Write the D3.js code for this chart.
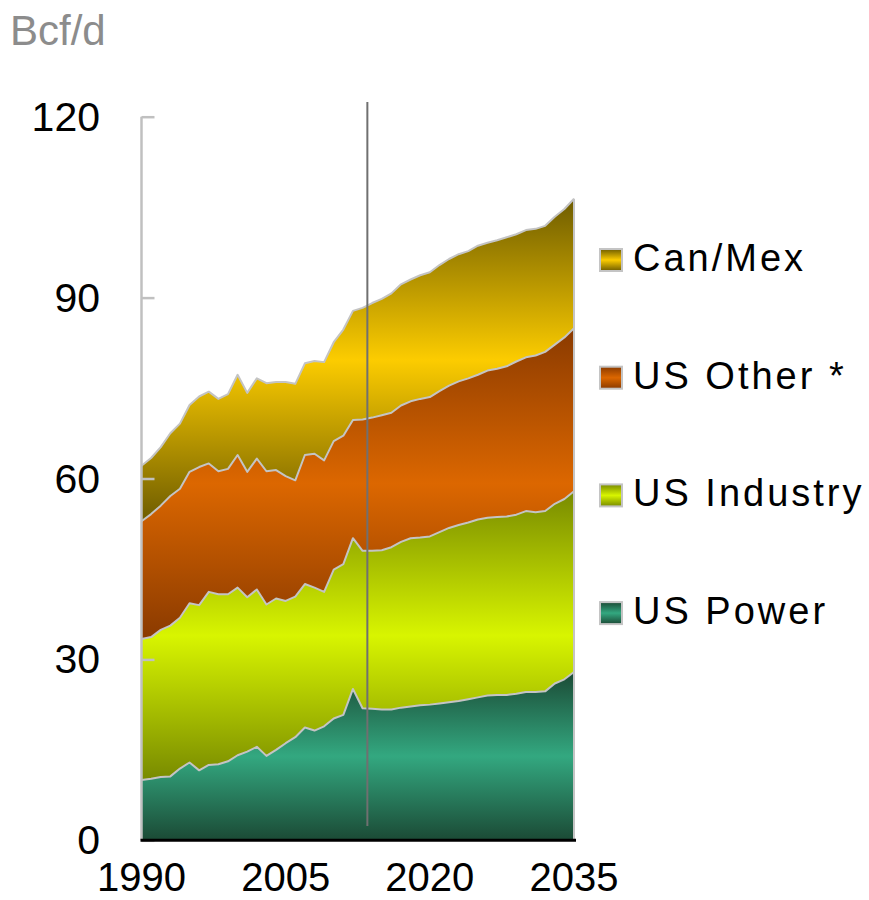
<!DOCTYPE html>
<html><head><meta charset="utf-8">
<script src="https://cdn.jsdelivr.net/npm/d3@7/dist/d3.min.js"></script>
<style>body{margin:0;background:#fff}svg{display:block}</style>
</head><body><svg id="c" width="869" height="900"></svg>
<script>
const years = [1990,1991,1992,1993,1994,1995,1996,1997,1998,1999,
  2000,2001,2002,2003,2004,2005,2006,2007,2008,2009,
  2010,2011,2012,2013,2014,2015,2016,2017,2018,2019,
  2020,2021,2022,2023,2024,2025,2026,2027,2028,2029,
  2030,2031,2032,2033,2034,2035];
const usPower = [10.0,10.2,10.5,10.6,11.9,12.9,11.6,12.5,12.6,13.1,
  14.1,14.7,15.5,14.0,15.0,16.1,17.1,18.7,18.2,18.9,
  20.2,20.8,25.1,21.9,21.8,21.7,21.7,22.0,22.2,22.4,
  22.5,22.7,22.9,23.1,23.4,23.7,24.0,24.1,24.1,24.3,
  24.6,24.6,24.7,26.0,26.7,27.9];
const usIndustry = [23.4,23.5,24.4,25.0,25.0,26.4,27.4,28.7,28.2,27.7,
  27.8,25.6,26.1,25.1,25.1,23.6,23.3,23.8,23.7,22.3,
  24.7,25.0,25.0,26.1,26.2,26.4,26.9,27.5,27.9,27.8,
  27.9,28.4,28.9,29.2,29.3,29.5,29.5,29.5,29.6,29.7,
  30.0,29.8,29.9,29.8,29.9,30.0];
const usOther = [19.5,20.4,20.6,21.5,21.4,21.8,22.9,21.3,20.4,20.8,
  22.0,20.8,21.7,22.1,21.3,20.7,19.3,21.4,22.2,21.8,
  21.3,21.3,19.6,21.8,22.1,22.4,22.3,22.6,22.7,23.0,
  23.1,23.4,23.6,23.8,23.9,24.0,24.4,24.6,24.9,25.4,
  25.5,26.0,26.4,26.4,26.8,27.0];
const canMex = [9.2,9.3,9.7,10.4,10.8,11.1,11.7,11.9,12.0,12.4,
  13.3,13.1,13.3,14.6,14.6,15.6,16.0,15.2,15.4,16.3,
  16.4,17.6,18.1,18.5,19.0,19.3,19.8,20.1,20.2,20.5,
  20.7,20.9,21.0,21.1,21.1,21.4,21.2,21.3,21.4,21.1,
  21.1,21.0,20.9,21.2,21.3,21.5];
const seriesKeys = ["power","industry","other","canmex"];
const seriesNames = {power:"US Power", industry:"US Industry", other:"US Other *", canmex:"Can/Mex"};
const legendOrder = ["canmex","other","industry","power"];
const yTicks = [0,30,60,90,120];
const xTicks = [1990,2005,2020,2035];
const historyEnd = 2013.5;
const unitLabel = "Bcf/d";

const colors = {
  power:   {edge:"#1b4a35", mid:"#33a880"},
  industry:{edge:"#788a00", mid:"#d8f500"},
  other:   {edge:"#8a3a00", mid:"#dc6700"},
  canmex:  {edge:"#6e5c00", mid:"#fccc00"}
};

const table = years.map((yr,i)=>({year:yr, power:usPower[i], industry:usIndustry[i], other:usOther[i], canmex:canMex[i]}));

const svg = d3.select("#c");
const x = d3.scaleLinear().domain([1990,2035]).range([141.5,574]);
const y = d3.scaleLinear().domain([0,120]).range([840.3,116.7]);
const font = "'Liberation Sans', Arial, sans-serif";

const defs = svg.append("defs");
seriesKeys.forEach(k=>{
  const g = defs.append("linearGradient").attr("id","g-"+k)
    .attr("x1",0).attr("y1",0).attr("x2",0).attr("y2",1);
  g.append("stop").attr("offset","0").attr("stop-color",colors[k].edge);
  g.append("stop").attr("offset","0.5").attr("stop-color",colors[k].mid);
  g.append("stop").attr("offset","1").attr("stop-color",colors[k].edge);
});

const stacked = d3.stack().keys(seriesKeys)(table);
const area = d3.area().x(d=>x(d.data.year)).y0(d=>y(d[0])).y1(d=>y(d[1]));
const topLine = d3.line().x(d=>x(d.data.year)).y(d=>y(d[1]));

svg.append("g").selectAll("path").data(stacked).join("path")
  .attr("d",area).attr("fill",d=>`url(#g-${d.key})`);
svg.append("g").selectAll("path").data(stacked).join("path")
  .attr("d",topLine).attr("fill","none").attr("stroke","#c4c4c4").attr("stroke-width",2)
  .attr("stroke-linejoin","round");
// right edge
const last = stacked[stacked.length-1][years.length-1];
svg.append("line").attr("x1",x(2035)).attr("x2",x(2035)).attr("y1",y(0)).attr("y2",y(last[1]))
  .attr("stroke","#c4c4c4").attr("stroke-width",2);

// divider line
svg.append("line").attr("x1",x(historyEnd)).attr("x2",x(historyEnd)).attr("y1",102).attr("y2",826)
  .attr("stroke","#707070").attr("stroke-width",2);

// y axis
const yAxis = svg.append("g").attr("transform",`translate(${x(1990)},0)`)
  .call(d3.axisRight(y).tickValues(yTicks).tickSize(13).tickFormat(""));
yAxis.select(".domain").attr("d",`M0,${y(120)}V${y(0)}`).attr("stroke","#c0c0c0").attr("stroke-width",2.5);
yAxis.selectAll(".tick line").attr("stroke","#c0c0c0").attr("stroke-width",2.5);
svg.append("g").selectAll("text").data(yTicks).join("text")
  .attr("x",100).attr("y",d=>y(d)+14).attr("text-anchor","end")
  .attr("font-family",font).attr("font-size",41).attr("fill","#000").text(d=>d);

// x axis
const xAxis = svg.append("g").attr("transform",`translate(0,${y(0)})`)
  .call(d3.axisBottom(x).tickValues(xTicks).tickSize(0).tickFormat(""));
xAxis.select(".domain").attr("stroke","#000").attr("stroke-width",3)
  .attr("d",`M${x(1990)-1},0H${x(2035)+2}`);
svg.append("g").selectAll("text").data(xTicks).join("text")
  .attr("x",d=>x(d)).attr("y",891).attr("text-anchor","middle")
  .attr("font-family",font).attr("font-size",40).attr("fill","#000").text(d=>d);

// unit label
svg.append("text").attr("x",10).attr("y",45).attr("font-family",font).attr("font-size",42)
  .attr("fill","#8c8c8c").text(unitLabel);

// legend
const leg = svg.append("g").selectAll("g").data(legendOrder).join("g")
  .attr("transform",(d,i)=>`translate(600,${271 + i*117.7})`);
leg.append("rect").attr("x",0).attr("y",-22).attr("width",22).attr("height",22)
  .attr("fill",d=>`url(#g-${d})`).attr("stroke","#c4c4c4").attr("stroke-width",2);
leg.append("text").attr("x",33).attr("y",0).attr("font-family",font).attr("font-size",38)
  .attr("letter-spacing",3).attr("fill","#000").text(d=>seriesNames[d]);
</script></body></html>
